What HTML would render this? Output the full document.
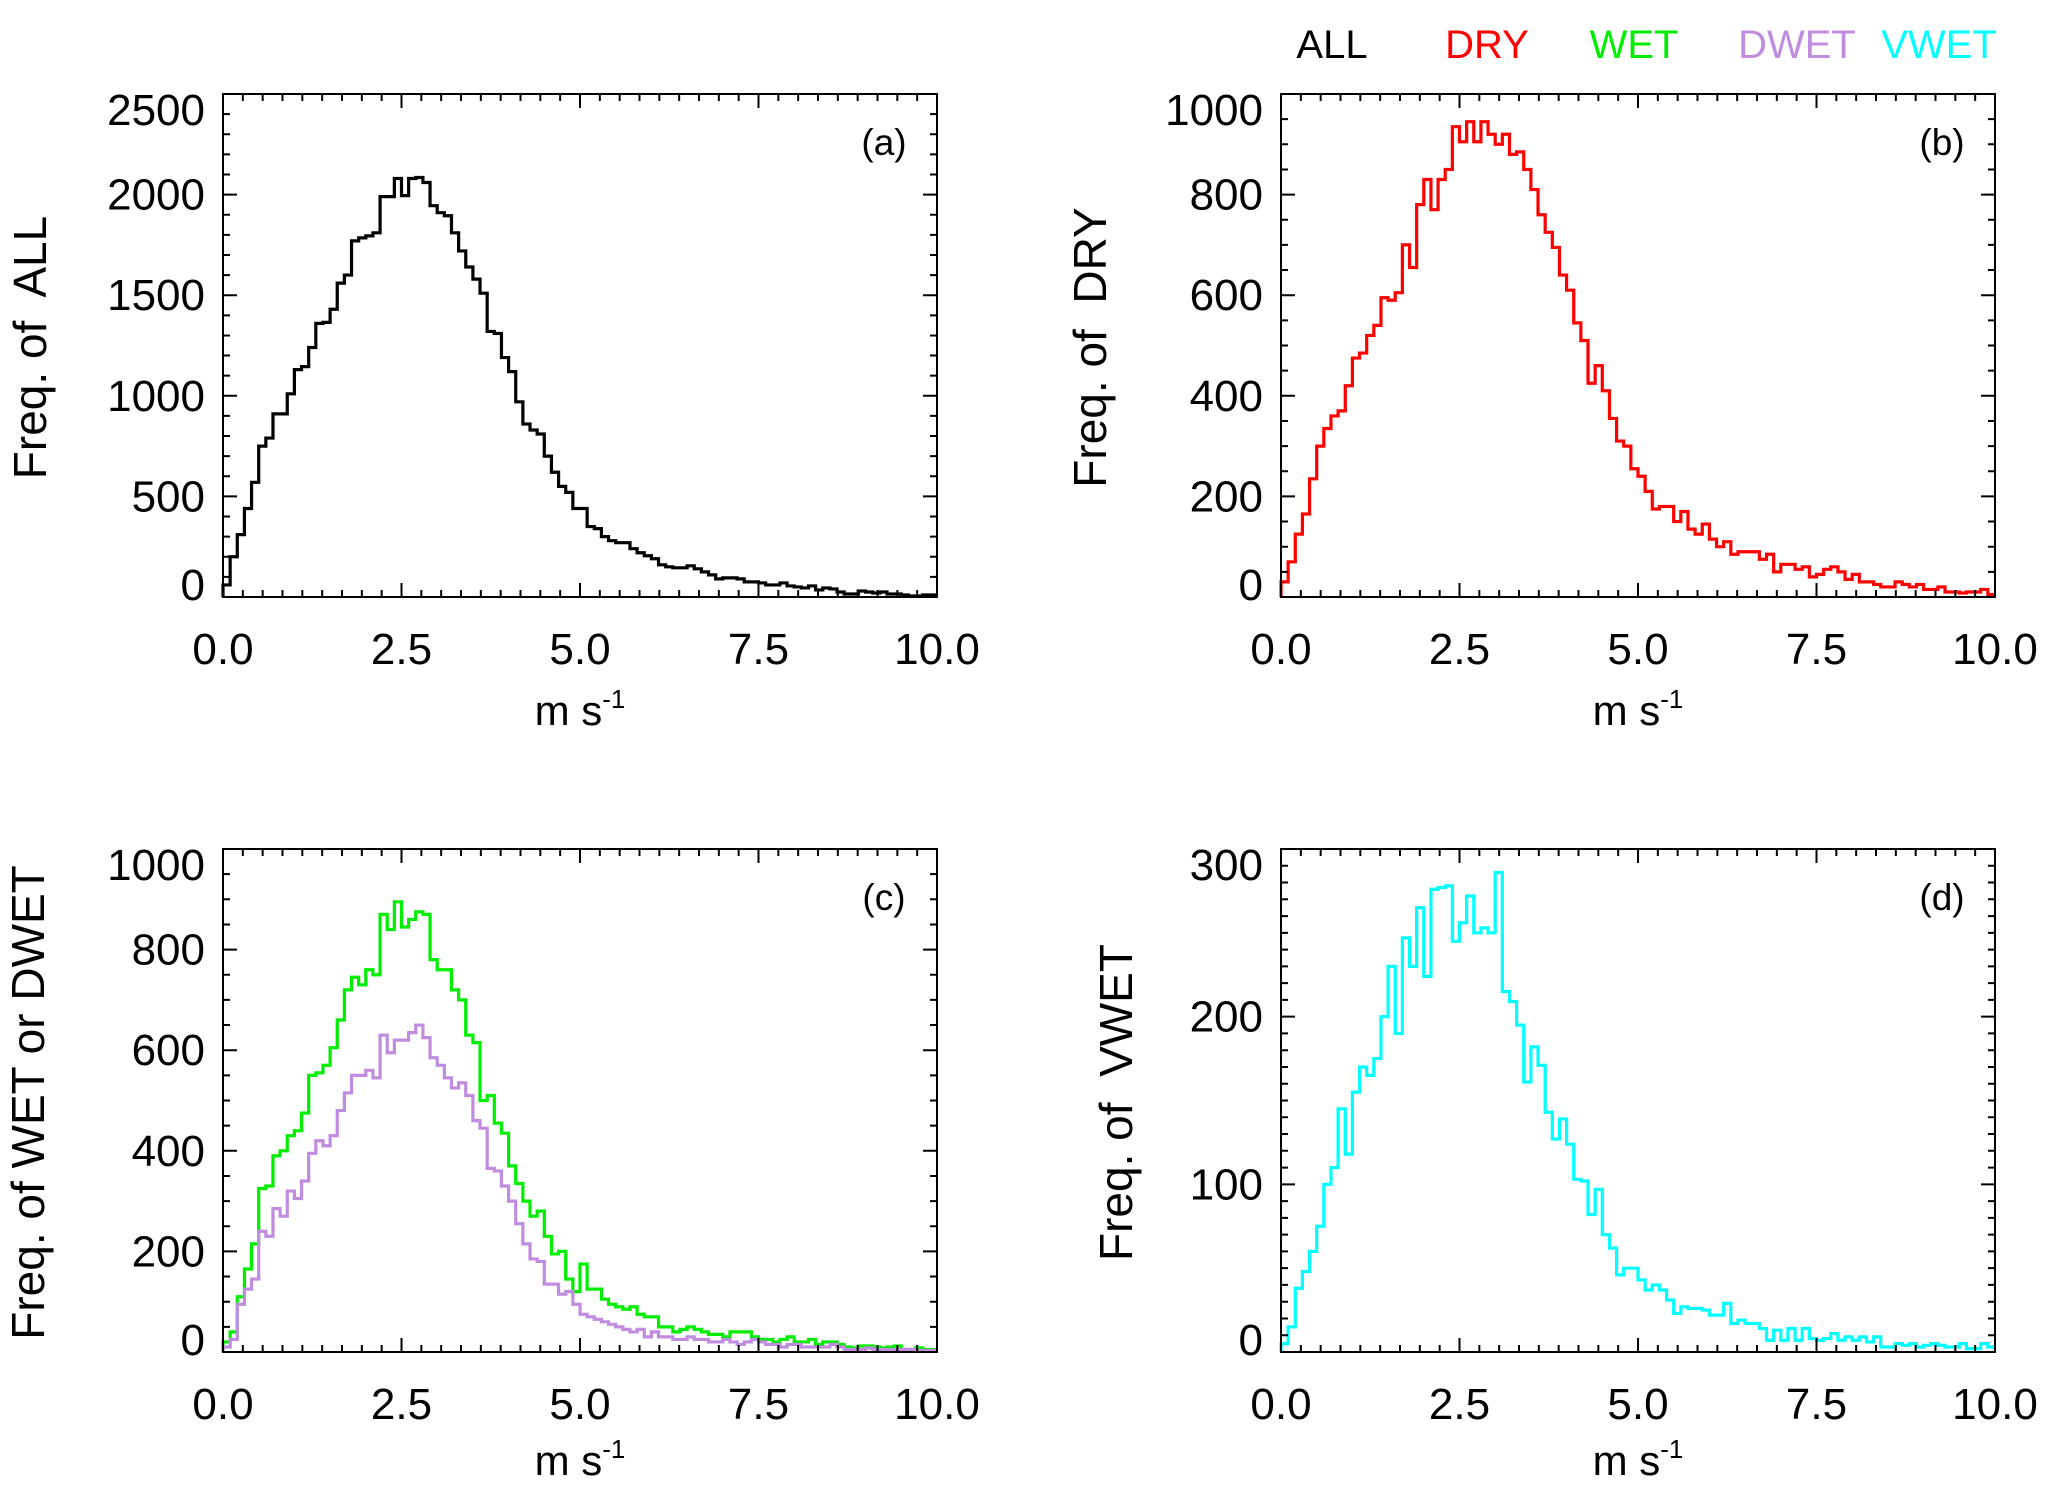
<!DOCTYPE html>
<html><head><meta charset="utf-8"><style>
html,body{margin:0;padding:0;background:#fff;}
svg{display:block;font-family:"Liberation Sans",sans-serif;}
</style></head><body>
<svg id="fig" width="2067" height="1497" viewBox="0 0 2067 1497" xmlns="http://www.w3.org/2000/svg">
<rect x="0" y="0" width="2067" height="1497" fill="#fff"/>
<g font-size="40" text-anchor="middle">
<text x="1332" y="58" fill="#000">ALL</text>
<text x="1487" y="58" fill="#ff0000">DRY</text>
<text x="1634" y="58" fill="#00ee00">WET</text>
<text x="1797" y="58" fill="#c08ce0">DWET</text>
<text x="1939" y="58" fill="#00ffff">VWET</text>
</g>
</svg>
<script>
const binCenters = [];
for (let i = 0; i < 100; i++) binCenters.push(i * 0.1);
const xTicks = [0, 2.5, 5, 7.5, 10];
const xTickLabels = ["0.0", "2.5", "5.0", "7.5", "10.0"];
const allValues = [60,200,310,440,570,750,790,910,910,1010,1130,1145,1240,1360,1365,1430,1560,1600,1770,1785,1795,1810,1990,1990,2080,1995,2080,2085,2060,1945,1910,1895,1810,1720,1640,1580,1510,1320,1310,1190,1120,970,860,830,810,700,620,550,520,440,440,350,340,300,280,270,270,240,220,205,190,160,150,145,145,155,140,125,110,90,95,95,90,75,75,70,60,60,70,55,50,45,55,35,45,40,25,15,15,30,25,20,25,15,15,10,5,5,10,10];
const dryValues = [30,70,125,165,235,300,335,360,370,420,475,485,520,540,595,590,605,700,655,780,830,770,830,850,935,905,945,905,945,920,900,920,880,885,850,810,760,725,695,640,610,545,510,425,460,410,355,310,300,255,240,210,175,180,180,150,170,135,125,145,115,100,110,85,90,90,90,75,85,50,65,65,55,60,40,45,55,60,50,35,45,30,30,25,20,20,30,25,20,25,15,15,20,10,10,8,10,10,15,5];
const wetValues = [20,40,110,165,215,325,330,390,400,430,440,475,550,555,570,605,660,720,745,730,760,750,870,840,895,845,860,875,870,780,760,760,720,700,630,615,500,510,455,435,370,335,300,270,280,230,195,200,145,120,175,125,125,105,95,90,85,90,75,70,70,50,50,40,45,50,45,40,35,35,30,40,40,40,30,25,25,20,25,30,20,20,25,15,20,20,15,10,8,12,12,10,8,10,12,5,5,8,5,5];
const dwetValues = [10,25,95,125,145,240,230,285,270,320,305,340,395,420,410,430,480,515,550,550,560,545,630,595,620,620,635,650,625,585,570,545,525,535,510,460,445,365,360,330,300,255,215,185,180,135,135,115,120,95,75,70,65,60,55,50,45,40,45,30,40,30,30,25,25,30,25,25,20,20,25,20,15,20,25,20,15,15,10,15,15,10,10,10,10,15,10,5,5,5,8,5,5,5,5,5,5,3,3,3];
const vwetValues = [5,15,38,48,60,75,100,110,145,118,155,170,165,175,200,230,190,247,230,265,224,276,277,278,245,256,272,250,253,250,286,215,209,195,161,182,171,143,127,139,124,103,102,82,97,70,62,46,50,50,43,37,40,37,31,23,27,26,26,25,22,22,29,17,19,17,17,14,7,13,7,14,7,14,8,7,8,11,7,9,7,9,6,9,3,3,5,4,5,3,4,5,4,3,3,5,2,2,5,3];
const yTicksA = [0,500,1000,1500,2000,2500];
const yTicksB = [0,200,400,600,800,1000];
const yTicksC = [0,200,400,600,800,1000];
const yTicksD = [0,100,200,300];

const NS = "http://www.w3.org/2000/svg";
const svg = document.getElementById("fig");
function mk(tag, attrs, parent) {
  const e = document.createElementNS(NS, tag);
  for (const k in attrs) e.setAttribute(k, attrs[k]);
  parent.appendChild(e);
  return e;
}

const panels = [
  {id:"a", x0:223, y0:94, series:[{v:allValues,c:"#000",n:"all"}], ymax:2500, yTicks:yTicksA, minor:100, title:"Freq. of  ALL", titleX:46, tag:"(a)"},
  {id:"b", x0:1281, y0:94, series:[{v:dryValues,c:"#ff0000",n:"dry"}], ymax:1000, yTicks:yTicksB, minor:50, title:"Freq. of  DRY", titleX:1106, tag:"(b)"},
  {id:"c", x0:223, y0:849, series:[{v:wetValues,c:"#00ee00",n:"wet"},{v:dwetValues,c:"#c08ce0",n:"dwet"}], ymax:1000, yTicks:yTicksC, minor:50, title:"Freq. of WET or DWET", titleX:44, tag:"(c)"},
  {id:"d", x0:1281, y0:849, series:[{v:vwetValues,c:"#00ffff",n:"vwet"}], ymax:300, yTicks:yTicksD, minor:10, title:"Freq. of  VWET", titleX:1132, tag:"(d)"}
];
const W = 714, H = 503;

panels.forEach(p => {
  const g = mk("g", {}, svg);
  
  
  const xs = v => p.x0 + v / 10 * W;
  const ys = v => p.y0 + H - v / p.ymax * H;
  const bot = p.y0 + H;

  p.series.forEach(s => {
    let d = "";
    s.v.forEach((val, i) => {
      const xl = xs(binCenters[i]), xr = xs(binCenters[i] + 0.1), y = ys(val);
      d += (i === 0 ? "M" + xl + "," + bot + " L" + xl + "," + y : " L" + xl + "," + y) + " L" + xr + "," + y;
    });
    const path = mk("path", {d:d, fill:"none", stroke:s.c, "stroke-width":3.2, "stroke-linejoin":"miter"}, g);
    
    
  });

  const box = mk("rect", {x:p.x0, y:p.y0, width:W, height:H, fill:"none", stroke:"#000", "stroke-width":2}, g);
  
  

  let td = "";
  for (let k = 0; k <= 36; k++) {
    const v = k * 2.5 / 9;
    const x = xs(v);
    const len = (k % 9 === 0) ? 14 : 7;
    td += "M" + x + "," + bot + " v" + (-len) + " M" + x + "," + p.y0 + " v" + len + " ";
  }
  for (let v = 0; v <= p.ymax + 0.001; v += p.minor) {
    const y = ys(v);
    const major = p.yTicks.some(t => Math.abs(t - v) < 1e-6);
    const len = major ? 14 : 7;
    td += "M" + p.x0 + "," + y + " h" + len + " M" + (p.x0 + W) + "," + y + " h" + (-len) + " ";
  }
  const ticks = mk("path", {d:td, stroke:"#000", "stroke-width":2, fill:"none"}, g);
  
  

  xTicks.forEach((v, i) => {
    const t = mk("text", {x:xs(v), y:bot + 67, "font-size":44, "text-anchor":"middle"}, g);
    t.textContent = xTickLabels[i];
    
    
  });
  p.yTicks.forEach((v, i) => {
    let y = ys(v) + 15;
    if (i === 0) y -= 12;
    if (i === p.yTicks.length - 1) y += 16;
    const t = mk("text", {x:p.x0 - 18, y:y, "font-size":44, "text-anchor":"end"}, g);
    t.textContent = String(v);
    
    
  });
  const xt = mk("text", {x:p.x0 + W * 0.5, y:bot + (p.y0 > 500 ? 123 : 128), "font-size":42, "text-anchor":"middle"}, g);
  
  
  xt.appendChild(document.createTextNode("m s"));
  const sup = mk("tspan", {"font-size":26, dy:-17}, xt);
  sup.textContent = "-1";
  const cy = p.y0 + H / 2 + 2;
  const yt = mk("text", {x:p.titleX, y:cy, "font-size":46, "text-anchor":"middle", transform:"rotate(-90 " + p.titleX + " " + cy + ")", "xml:space":"preserve", style:"white-space:pre"}, g);
  yt.textContent = p.title;
  
  
  const tg = mk("text", {x:p.x0 + W - 53, y:p.y0 + 61, "font-size":37, "text-anchor":"middle"}, g);
  tg.textContent = p.tag;
  
  
});
</script>
</body></html>
